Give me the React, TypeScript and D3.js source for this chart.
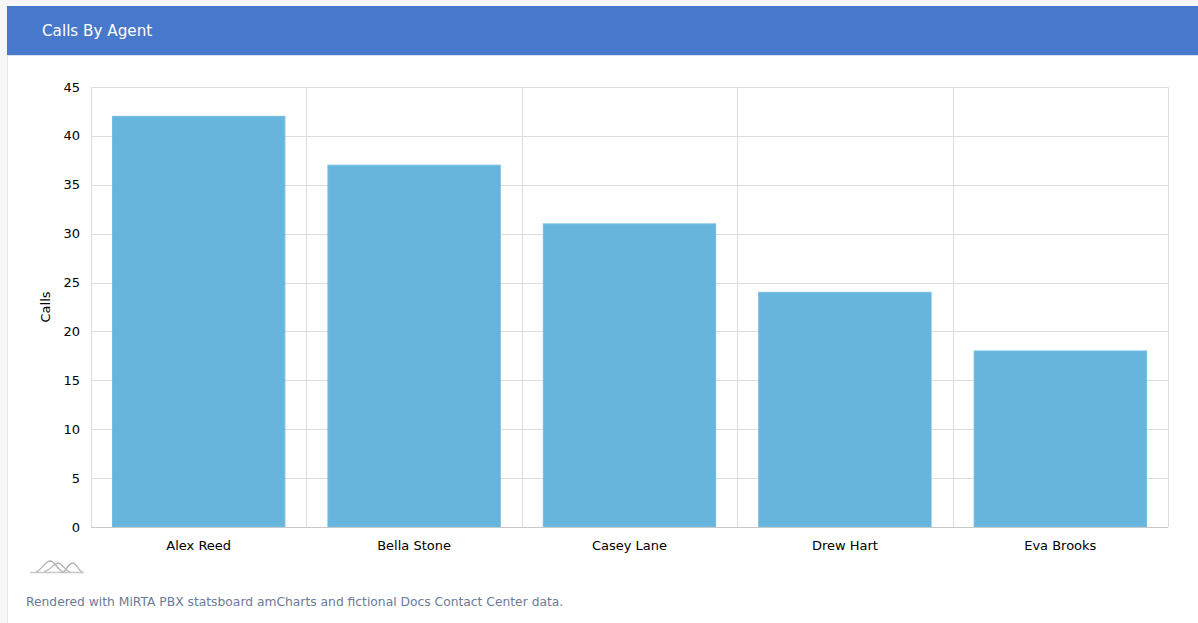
import React from "react";
import * as d3 from "d3";

const agents = ["Alex Reed", "Bella Stone", "Casey Lane", "Drew Hart", "Eva Brooks"];
const calls = [42, 37, 31, 24, 18];
const yTicks = [0, 5, 10, 15, 20, 25, 30, 35, 40, 45];
const title = "Calls By Agent";
const yTitle = "Calls";
const footer = "Rendered with MiRTA PBX statsboard amCharts and fictional Docs Contact Center data.";

export default function App() {
  const W = 1198, H = 623;
  const left = 91, right = 1168, top = 87, bottom = 527;
  const x = d3.scaleBand<string>().domain(agents).range([left, right]).paddingInner(0.2).paddingOuter(0.1);
  const xCell = d3.scaleBand<string>().domain(agents).range([left, right]);
  const y = d3.scaleLinear().domain([0, 45]).range([bottom, top]);
  const font = "'DejaVu Sans', Verdana, sans-serif";
  return (
    <div style={{ position: "fixed", left: 0, top: 0, width: W, height: H, background: "#f7f7f8" }}>
      <svg width={W} height={H} style={{ display: "block", fontFamily: font }}>
        <rect x={7.5} y={6.5} width={W} height={H} fill="#ffffff" stroke="#e6e6e6" />
        <rect x={7} y={6} width={W} height={49} fill="#4878cc" />
        <line x1={7} x2={W} y1={55.5} y2={55.5} stroke="#d9e2f0" />
        <text x={42} y={36} fill="#ffffff" fontSize={15.2}>{title}</text>

        {yTicks.map((t) => (
          <g key={t}>
            <line x1={left} x2={right} y1={Math.round(y(t)) + 0.5} y2={Math.round(y(t)) + 0.5} stroke={t === 0 ? "#c8c8c8" : "#dddddd"} />
            <text x={80} y={y(t) + 4.5} textAnchor="end" fontSize={13} fill="#000">{t}</text>
          </g>
        ))}
        {agents.map((a) => (
          <line key={a} x1={Math.round(xCell(a)!) + 0.5} x2={Math.round(xCell(a)!) + 0.5} y1={top} y2={bottom} stroke="#dddddd" />
        ))}
        <line x1={right + 0.5} x2={right + 0.5} y1={top} y2={bottom} stroke="#dddddd" />
        {agents.map((a, i) => (
          <rect key={a} x={x(a)!} y={y(calls[i])} width={x.bandwidth()} height={bottom - y(calls[i])} fill="#67b5dc" stroke="#70bce2" strokeWidth={1} />
        ))}
        <line x1={left} x2={right} y1={bottom + 0.5} y2={bottom + 0.5} stroke="#c8c8c8" />
        {agents.map((a) => (
          <text key={a} x={xCell(a)! + xCell.bandwidth() / 2} y={549.5} textAnchor="middle" fontSize={13} fill="#000">{a}</text>
        ))}
        <text transform={`translate(50,${(top + bottom) / 2}) rotate(-90)`} textAnchor="middle" fontSize={13} fill="#000">{yTitle}</text>

        <g fill="none" stroke="#b5b5b5" strokeWidth={1.3}>
          <path d="M30,572.5 L84,572.5" stroke="#c8c8c8" />
          <path d="M36,572 C42,570 44,562 50,561 C56,561 58,572 64,572 C68,566 70,563 73,563 C76,563 78,570 82,572" />
          <path d="M44,572 C52,569 54,563 58,563 C62,563 64,570 70,572" />
        </g>
        <text x={26} y={606} fontSize={12.3} fill="#6b7b99">{footer}</text>
      </svg>
    </div>
  );
}
